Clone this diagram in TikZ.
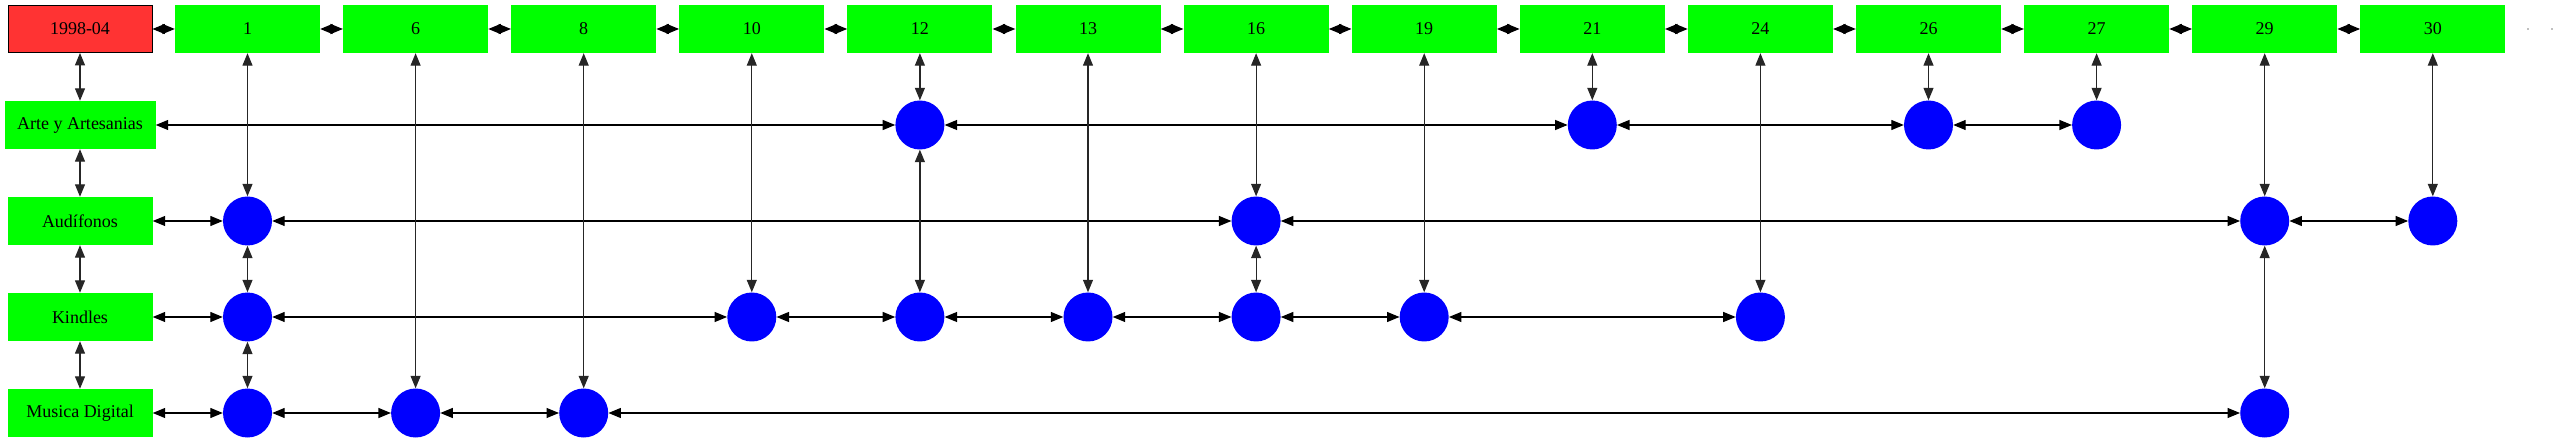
\documentclass[tikz,border=0pt]{standalone}
\usepackage{fontspec}
\setmainfont{Liberation Serif}
\usetikzlibrary{arrows.meta}
\definecolor{gfill}{HTML}{00FF00}
\definecolor{rfill}{HTML}{FF3333}
\definecolor{bfill}{HTML}{0000FF}
\begin{document}
\begin{tikzpicture}[x=1pt,y=-1pt,
  box/.style={fill=gfill,draw=none,minimum width=145pt,minimum height=48pt,inner sep=0pt,font=\fontsize{18}{20}\selectfont},
  hdr/.style={box,fill=rfill,draw=black,line width=0.9pt,minimum width=144pt,minimum height=47pt},
  dot/.style={circle,fill=bfill,draw=none,minimum size=49pt,inner sep=0pt},
  lnk/.style={<->,>={Triangle[length=12.5pt,width=10pt]},line width=1.2pt,black},
  vlnk/.style={lnk,draw=black!85}
]
\useasboundingbox (0,0) rectangle (2557,443);
% header row
\node[hdr] (h) at (80,29) {1998-04};
\foreach \lab [count=\i from 0] in {1,6,8,10,12,13,16,19,21,24,26,27,29,30}
  \node[box] (t\lab) at ({247.5+168.1*\i},29) {\lab};
\fill[black!50] (2528,29) circle (0.9) (2552,29) circle (0.9);
% row labels
\node[box,minimum width=151pt] (arte) at (80,125) {Arte y Artesanias};
\node[box] (aud) at (80,221) {Audífonos};
\node[box] (kin) at (80,317) {Kindles};
\node[box] (mus) at (80,413) {Musica Digital};
% circles
\foreach \c in {12,21,26,27} \node[dot] (a\c) at (t\c |- arte) {};
\foreach \c in {1,16,29,30} \node[dot] (u\c) at (t\c |- aud) {};
\foreach \c in {1,10,12,13,16,19,24} \node[dot] (k\c) at (t\c |- kin) {};
\foreach \c in {1,6,8,29} \node[dot] (m\c) at (t\c |- mus) {};
% top row links
\draw[lnk] (h) -- (t1);
\foreach \p/\q in {1/6,6/8,8/10,10/12,12/13,13/16,16/19,19/21,21/24,24/26,26/27,27/29,29/30}
  \draw[lnk] (t\p) -- (t\q);
% left column
\draw[vlnk] (h) -- (arte);
\draw[vlnk] (arte) -- (aud);
\draw[vlnk] (aud) -- (kin);
\draw[vlnk] (kin) -- (mus);
% horizontal row links
\draw[lnk] (arte) -- (a12);
\draw[lnk] (a12) -- (a21);
\draw[lnk] (a21) -- (a26);
\draw[lnk] (a26) -- (a27);
\draw[lnk] (aud) -- (u1);
\draw[lnk] (u1) -- (u16);
\draw[lnk] (u16) -- (u29);
\draw[lnk] (u29) -- (u30);
\draw[lnk] (kin) -- (k1);
\foreach \p/\q in {1/10,10/12,12/13,13/16,16/19,19/24}
  \draw[lnk] (k\p) -- (k\q);
\draw[lnk] (mus) -- (m1);
\draw[lnk] (m1) -- (m6);
\draw[lnk] (m6) -- (m8);
\draw[lnk] (m8) -- (m29);
% vertical links
\draw[vlnk] (t12) -- (a12);
\draw[vlnk] (t21) -- (a21);
\draw[vlnk] (t26) -- (a26);
\draw[vlnk] (t27) -- (a27);
\draw[vlnk] (t1) -- (u1);
\draw[vlnk] (t16) -- (u16);
\draw[vlnk] (t29) -- (u29);
\draw[vlnk] (t30) -- (u30);
\draw[vlnk] (u1) -- (k1);
\draw[vlnk] (t10) -- (k10);
\draw[vlnk] (a12) -- (k12);
\draw[vlnk] (t13) -- (k13);
\draw[vlnk] (u16) -- (k16);
\draw[vlnk] (t19) -- (k19);
\draw[vlnk] (t24) -- (k24);
\draw[vlnk] (k1) -- (m1);
\draw[vlnk] (t6) -- (m6);
\draw[vlnk] (t8) -- (m8);
\draw[vlnk] (u29) -- (m29);
\end{tikzpicture}
\end{document}
